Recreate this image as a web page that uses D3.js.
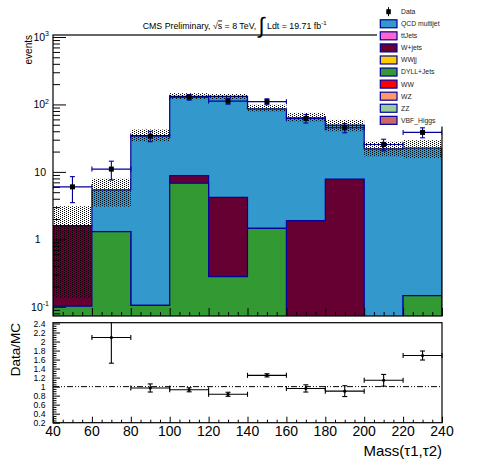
<!DOCTYPE html>
<html>
<head>
<meta charset="utf-8">
<script src="https://cdn.jsdelivr.net/npm/d3@7"></script>
<style>
body { margin: 0; background: #fff; }
text { font-family: "Liberation Sans", Arial, Helvetica, sans-serif; }
</style>
</head>
<body>
<svg id="chart" width="496" height="472"></svg>
<script>
// bins of the mass histogram
const binEdges = [40, 60, 80, 100, 120, 140, 160, 180, 200, 220, 240];

// stacked MC
const qcd      = [0, 4.1, 34.4, 123.2, 127.8, 84.5, 61.1, 41.6, 22, 22.45];
const ttJets   = [0, 0, 0, 0, 0, 0, 0, 0, 0, 0];
const wJets    = [1.5, 0, 0, 2.0, 3.9, 0, 1.9, 7.8, 0, 0];
const wwjj     = [0, 0, 0, 0, 0, 0, 0, 0, 0, 0];
const dyllJets = [0.102, 1.3, 0.105, 6.8, 0.28, 1.45, 0, 0, 0, 0.146];
const ww       = [0, 0, 0, 0, 0, 0, 0, 0, 0, 0];
const wz       = [0, 0, 0, 0, 0, 0, 0, 0, 0, 0];
const zz       = [0, 0, 0, 0, 0, 0, 0, 0, 0, 0];
const vbfHiggs = [0, 0, 0, 0, 0, 0, 0, 0, 0, 0];

// MC uncertainty band
const bandLo = [0.137, 3.05, 28.5, 120, 120, 79, 56, 40, 17, 16];
const bandHi = [3.1, 7.9, 42.5, 147, 143, 99, 75, 59, 28, 29.5];

// data
const dataVals = [6, 11, 34, 128, 112, 110, 62, 45, 25.5, 38.5];
const dataErr  = [2.5, 3.4, 6, 12, 11, 11, 9, 7, 5, 6.5];

// ratio pad
const ratioVals = [null, 2.09, 0.97, 0.93, 0.83, 1.25, 0.96, 0.90, 1.14, 1.69];
const ratioErr  = [null, 0.57, 0.09, 0.045, 0.045, 0.035, 0.08, 0.12, 0.13, 0.10];

const topTicks = [0.1, 1, 10, 100, 1000];
const ratioTicks = [0.2, 0.4, 0.6, 0.8, 1, 1.2, 1.4, 1.6, 1.8, 2, 2.2, 2.4];
const xTicks = [40, 60, 80, 100, 120, 140, 160, 180, 200, 220, 240];

// stacking order, bottom first
const layers = [
    { key: "vbf",   name: "VBF_Higgs",    values: vbfHiggs, color: "#cc6666" },
    { key: "zz",    name: "ZZ",           values: zz,       color: "#99cc99" },
    { key: "wz",    name: "WZ",           values: wz,       color: "#ff9966" },
    { key: "ww",    name: "WW",           values: ww,       color: "#ff0000" },
    { key: "dyll",  name: "DYLL+Jets",    values: dyllJets, color: "#339933" },
    { key: "wwjj",  name: "WWjj",         values: wwjj,     color: "#ffcc00" },
    { key: "wjets", name: "W+jets",       values: wJets,    color: "#660033" },
    { key: "tt",    name: "ttJets",       values: ttJets,   color: "#ff66cc" },
    { key: "qcd",   name: "QCD multijet", values: qcd,      color: "#3399cc" }
];
const lineBlue = "#00009c";

var svg = d3.select("#chart");
var L = 53, R = 442, T = 35, B = 316;   // upper frame
var RT = 322.7, RB = 422.7;              // ratio frame

var x = d3.scaleLinear().domain([40, 240]).range([L, R]);
var y = d3.scaleLog().domain([0.073, 1070]).range([B, T]);
var yr = d3.scaleLinear().domain([0.2, 2.4]).range([422.7, 323.5]);

var defs = svg.append("defs");
defs.append("clipPath").attr("id", "clipTop")
    .append("rect").attr("x", L).attr("y", T).attr("width", R - L).attr("height", B - T);
var pat = defs.append("pattern").attr("id", "dots")
    .attr("width", 4).attr("height", 2).attr("patternUnits", "userSpaceOnUse");
pat.append("rect").attr("x", 0).attr("y", 0).attr("width", 1).attr("height", 1).attr("fill", "#000");
pat.append("rect").attr("x", 2).attr("y", 1).attr("width", 1).attr("height", 1).attr("fill", "#000");

// rows per bin for d3.stack
var rows = dataVals.map(function (d, i) {
    var r = { lo: binEdges[i], hi: binEdges[i + 1] };
    layers.forEach(function (l) { r[l.key] = l.values[i]; });
    return r;
});
var series = d3.stack().keys(layers.map(l => l.key))(rows);

function yClamp(v) { return v > y.domain()[0] ? y(v) : B + 2; }

function stepPath(s) {
    var p = "M" + x(240) + "," + (B + 2) + "L" + x(40) + "," + (B + 2);
    s.forEach(function (d, i) {
        var yy = yClamp(d[1]);
        p += "L" + x(rows[i].lo) + "," + yy + "L" + x(rows[i].hi) + "," + yy;
    });
    return p + "Z";
}

var plot = svg.append("g").attr("clip-path", "url(#clipTop)");

// draw cumulative histograms, biggest first
series.slice().reverse().forEach(function (s, k) {
    var layer = layers[layers.length - 1 - k];
    if (d3.max(layer.values) === 0) return;
    plot.append("path")
        .attr("d", stepPath(s))
        .attr("fill", layer.color)
        .attr("stroke", lineBlue)
        .attr("stroke-width", 1.2);
});

// uncertainty band
plot.selectAll(".band").data(rows).enter().append("rect")
    .attr("x", d => x(d.lo))
    .attr("width", d => x(d.hi) - x(d.lo))
    .attr("y", (d, i) => y(bandHi[i]))
    .attr("height", (d, i) => y(bandLo[i]) - y(bandHi[i]))
    .attr("fill", "url(#dots)");

// data points with error bars
function drawPoints(g, vals, errs, yScale, color, marker) {
    vals.forEach(function (v, i) {
        if (v === null) return;
        var cx = x((binEdges[i] + binEdges[i + 1]) / 2);
        var x0 = x(binEdges[i]), x1 = x(binEdges[i + 1]);
        var cy = yScale(v), y0 = yScale(v - errs[i]), y1 = Math.max(yScale(v + errs[i]), yScale.range()[1] - 1);
        var pg = g.append("g").attr("stroke", color).attr("stroke-width", 1.1).attr("fill", "none");
        pg.append("line").attr("x1", x0).attr("x2", x1).attr("y1", cy).attr("y2", cy);
        pg.append("line").attr("x1", x0).attr("x2", x0).attr("y1", cy - 2.5).attr("y2", cy + 2.5);
        pg.append("line").attr("x1", x1).attr("x2", x1).attr("y1", cy - 2.5).attr("y2", cy + 2.5);
        pg.append("line").attr("x1", cx).attr("x2", cx).attr("y1", y0).attr("y2", y1);
        pg.append("line").attr("x1", cx - 2.5).attr("x2", cx + 2.5).attr("y1", y0).attr("y2", y0);
        if (y1 > yScale.range()[1]) pg.append("line").attr("x1", cx - 2.5).attr("x2", cx + 2.5).attr("y1", y1).attr("y2", y1);
        if (marker === "square") {
            g.append("rect").attr("x", cx - 2.5).attr("y", cy - 2.5).attr("width", 5).attr("height", 5).attr("fill", "#000");
        } else {
            g.append("circle").attr("cx", cx).attr("cy", cy).attr("r", 1.6).attr("fill", "#000");
        }
    });
}
drawPoints(plot, dataVals, dataErr, y, lineBlue, "square");

// upper axes (ticks inside)
var minorLog = [];
[0.01, 0.1, 1, 10, 100].forEach(function (dec) {
    for (var m = 2; m <= 9; m++) {
        var v = dec * m;
        if (v > y.domain()[0] && v < y.domain()[1]) minorLog.push(v);
    }
});
svg.append("g").attr("transform", `translate(${L},0)`)
    .call(d3.axisLeft(y).tickValues(topTicks).tickSize(-13).tickFormat(""))
    .call(g => g.select(".domain").remove());
svg.append("g").attr("transform", `translate(${L},0)`)
    .call(d3.axisLeft(y).tickValues(minorLog).tickSize(-7).tickFormat(""))
    .call(g => g.select(".domain").remove());

var xMinor = d3.range(40, 241, 5).filter(v => v % 20 !== 0);
svg.append("g").attr("transform", `translate(0,${B})`)
    .call(d3.axisBottom(x).tickValues(xTicks).tickSize(-8).tickFormat(""))
    .call(g => g.select(".domain").remove());
svg.append("g").attr("transform", `translate(0,${B})`)
    .call(d3.axisBottom(x).tickValues(xMinor).tickSize(-4).tickFormat(""))
    .call(g => g.select(".domain").remove());

svg.append("rect").attr("x", L).attr("y", T).attr("width", R - L).attr("height", B - T)
    .attr("fill", "none").attr("stroke", "#000").attr("stroke-width", 1.2);

// log labels
var labelInfo = [
    { v: 0.1, base: "10", sup: "-1" },
    { v: 1, base: "1", sup: null },
    { v: 10, base: "10", sup: null },
    { v: 100, base: "10", sup: "2" },
    { v: 1000, base: "10", sup: "3" }
];
labelInfo.forEach(function (d) {
    var t = svg.append("text")
        .attr("x", d.sup ? 49 : (d.base === "1" ? 40.5 : 46))
        .attr("y", y(d.v) + 3.8)
        .attr("text-anchor", "end")
        .style("font-size", "10.5px")
        .text(d.base);
    if (d.sup) t.append("tspan").attr("dy", -4.5).style("font-size", "7px").text(d.sup);
});

svg.append("text")
    .attr("transform", "translate(31.5,35) rotate(-90)")
    .attr("text-anchor", "end")
    .style("font-size", "10px")
    .text("events");

// title
var title = svg.append("text").attr("x", 142.7).attr("y", 28.5).style("font-size", "8.8px");
title.append("tspan").text("CMS Preliminary, ");
title.append("tspan").text("\u221A");
title.append("tspan").style("text-decoration", "overline").text("s");
title.append("tspan").text(" = 8 TeV, ");
title.append("tspan").attr("dy", 4).style("font-size", "22px").style("font-weight", "200").text("\u222B");
title.append("tspan").attr("dy", -4).text(" Ldt = 19.71 fb");
title.append("tspan").attr("dy", -4).style("font-size", "6px").text("-1");

// legend
var leg = svg.append("g");
leg.append("rect").attr("x", 377).attr("y", 0).attr("width", 119).attr("height", 126.5).attr("fill", "#fff");
var legRows = legendNames();
function legendNames() {
    var out = [{ name: "Data", data: true }];
    layers.slice().reverse().forEach(l => out.push({ name: l.name, color: l.color }));
    return out;
}
legRows.forEach(function (d, i) {
    var cy = 11.7 + i * 12.07;
    if (d.data) {
        leg.append("line").attr("x1", 388.5).attr("x2", 388.5).attr("y1", cy - 4.5).attr("y2", cy + 4.5)
            .attr("stroke", "#000").attr("stroke-width", 1);
        leg.append("rect").attr("x", 386.3).attr("y", cy - 2.5).attr("width", 4.5).attr("height", 5).attr("fill", "#000");
    } else {
        leg.append("rect").attr("x", 380.3).attr("y", cy - 4).attr("width", 16.7).attr("height", 8)
            .attr("fill", d.color).attr("stroke", lineBlue).attr("stroke-width", 1.2);
    }
    leg.append("text").attr("x", 401).attr("y", cy + 2.4).style("font-size", "6.8px").attr("fill", "#222").text(d.name);
});

// ratio pad
var rg = svg.append("g");
rg.append("line").attr("x1", L).attr("x2", R).attr("y1", yr(1)).attr("y2", yr(1))
    .attr("stroke", "#000").attr("stroke-width", 1).attr("stroke-dasharray", "6,2,1,2,1,2");
drawPoints(rg, ratioVals, ratioErr, yr, "#000", "circle");

var rMinor = d3.range(0.2, 2.401, 0.05).filter(v => Math.abs(v * 5 - Math.round(v * 5)) > 0.01);
svg.append("g").attr("transform", `translate(${L},0)`)
    .call(d3.axisLeft(yr).tickValues(ratioTicks).tickSize(-7).tickFormat(""))
    .call(g => g.select(".domain").remove());
svg.append("g").attr("transform", `translate(${L},0)`)
    .call(d3.axisLeft(yr).tickValues(rMinor).tickSize(-3.5).tickFormat(""))
    .call(g => g.select(".domain").remove());
svg.append("g").attr("transform", `translate(0,${RB})`)
    .call(d3.axisBottom(x).tickValues(xTicks).tickSize(-6).tickFormat(""))
    .call(g => g.select(".domain").remove());
svg.append("g").attr("transform", `translate(0,${RB})`)
    .call(d3.axisBottom(x).tickValues(xMinor).tickSize(-3).tickFormat(""))
    .call(g => g.select(".domain").remove());
svg.selectAll(".tick line").attr("stroke", "#000").attr("stroke-width", 1);

svg.append("rect").attr("x", L).attr("y", RT).attr("width", R - L).attr("height", RB - RT)
    .attr("fill", "none").attr("stroke", "#000").attr("stroke-width", 1.2);

ratioTicks.forEach(function (v) {
    svg.append("text").attr("x", 45.5).attr("y", yr(v) + 3)
        .attr("text-anchor", "end").style("font-size", "8.6px")
        .text(d3.format("~g")(v));
});
xTicks.forEach(function (v) {
    svg.append("text").attr("x", x(v)).attr("y", 436)
        .attr("text-anchor", "middle").style("font-size", "14px")
        .text(v);
});
svg.append("text").attr("transform", "translate(20,323) rotate(-90)")
    .attr("text-anchor", "end").style("font-size", "13.5px").text("Data/MC");
svg.append("text").attr("x", R).attr("y", 456)
    .attr("text-anchor", "end").style("font-size", "15px").text("Mass(\u03C41,\u03C42)");
</script>
</body>
</html>
